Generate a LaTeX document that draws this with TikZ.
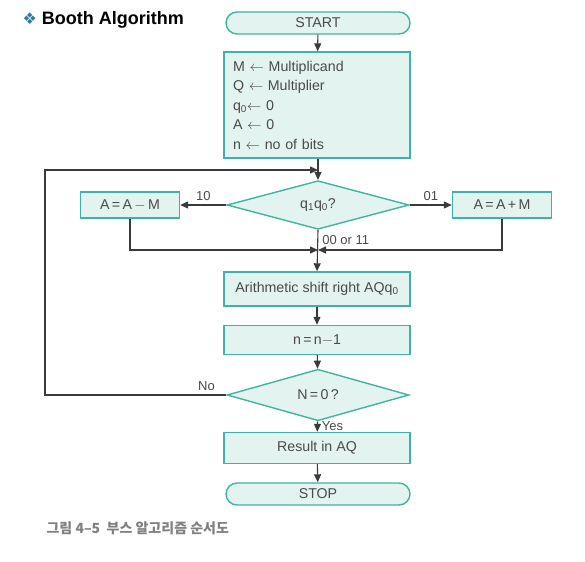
\documentclass[tikz,border=0pt]{standalone}
\usepackage{fontspec}
\setmainfont{Liberation Sans}
\newfontfamily\symfont{DejaVu Sans}
\newfontfamily\korfont{Noto Sans CJK KR}
\usepackage{tikz}
\usetikzlibrary{shapes.geometric,arrows.meta,positioning,calc}
\definecolor{boxfill}{HTML}{E3F3F0}
\definecolor{boxline}{HTML}{3DB5A0}
\definecolor{lineclr}{HTML}{3A3A3A}
\definecolor{txtclr}{HTML}{4A4A4A}
\definecolor{bulletclr}{HTML}{2F7D9A}

\begin{document}
\begin{tikzpicture}[x=1pt,y=-1pt,
    every node/.style={font=\fontsize{14.2}{19.5}\selectfont, text=txtclr},
    procbox/.style={draw=boxline, fill=boxfill, line width=1.4pt, rectangle, minimum height=#1, inner sep=0pt},
    procbox/.default=30pt,
    termbox/.style={draw=boxline, fill=boxfill, line width=1.4pt, rectangle, rounded corners=11pt,
      minimum width=184pt, minimum height=22pt, inner sep=0pt},
    decbox/.style={draw=boxline, fill=boxfill, line width=1.4pt, diamond, inner sep=0pt,
      minimum width=182pt, minimum height=#1},
    arr/.style={draw=lineclr, line width=1.1pt, -{Triangle[length=8pt,width=7pt]}},
    edgelabel/.style={font=\fontsize{13}{15}\selectfont}]

    \useasboundingbox (0,0) rectangle (585,561);

    \node[anchor=west, text=black, font=\fontsize{18}{20}\selectfont\bfseries] (title) at (19,20)
      {{\symfont\color{bulletclr}\fontsize{16}{16}\selectfont ❖}\ Booth Algorithm};

    \node[termbox] (start) at (318,23) {START};
    \node[procbox, minimum width=186pt, minimum height=106pt, align=left, text width=168pt] (init) at (317,105)
      {M $\leftarrow$ Multiplicand \\ Q $\leftarrow$ Multiplier \\ q\textsubscript{0}$\leftarrow$ 0 \\ A $\leftarrow$ 0 \\ n $\leftarrow$ no of bits};
    \node[decbox=35pt] (qtest) at (318,205) {q\textsubscript{1}q\textsubscript{0}?};
    \node[procbox=26pt, minimum width=99pt] (sub) at (130,205) {A\,=\,A\,$-$\,M};
    \node[procbox=26pt, minimum width=99pt] (add) at (502,205) {A\,=\,A\,+\,M};
    \node[procbox=34pt, minimum width=186pt] (shift) at (317,289) {Arithmetic shift right AQq\textsubscript{0}};
    \node[procbox=29pt, minimum width=186pt] (count) at (317,340) {n\,=\,n$-$1};
    \node[decbox=35pt] (ntest) at (318,395) {N\,=\,0\,?};
    \node[procbox=31pt, minimum width=186pt] (result) at (317,448) {Result in AQ};
    \node[termbox] (stop) at (318,494) {STOP};

    \coordinate (loop) at (45,170);
    \coordinate (top join) at (qtest.north |- loop);
    \coordinate (mid join) at (318,250);

    \draw[arr] (start) -- (init);
    \draw[arr] (init.south -| qtest.north) -- (qtest.north);
    \draw[arr] (ntest.west) -| (loop) -- (top join);
    \draw[arr] (qtest.west) -- node[edgelabel, above] {10} (sub.east);
    \draw[arr] (qtest.east) -- node[edgelabel, above] {01} (add.west);
    \draw[arr] (qtest.south) -- node[edgelabel, pos=0.25, right, inner sep=4pt] {00 or 11} (shift.north);
    \draw[arr] (sub.south) |- (mid join);
    \draw[arr] (add.south) |- (mid join);
    \draw[arr] (shift) -- (count);
    \draw[arr] (count) -- (ntest);
    \draw[arr] (ntest) -- node[edgelabel, right, inner sep=4pt, pos=0.45] {Yes} (result);
    \draw[arr] (result) -- (stop);
    \node[edgelabel, anchor=south east] (nolabel) at ([xshift=-8pt,yshift=1pt]ntest.west) {No};

    \node[anchor=west, text=gray, font=\korfont\bfseries\fontsize{14}{16}\selectfont] (caption) at (43,528)
      {그림 4–5\ \ 부스 알고리즘 순서도};
\end{tikzpicture}
\end{document}
